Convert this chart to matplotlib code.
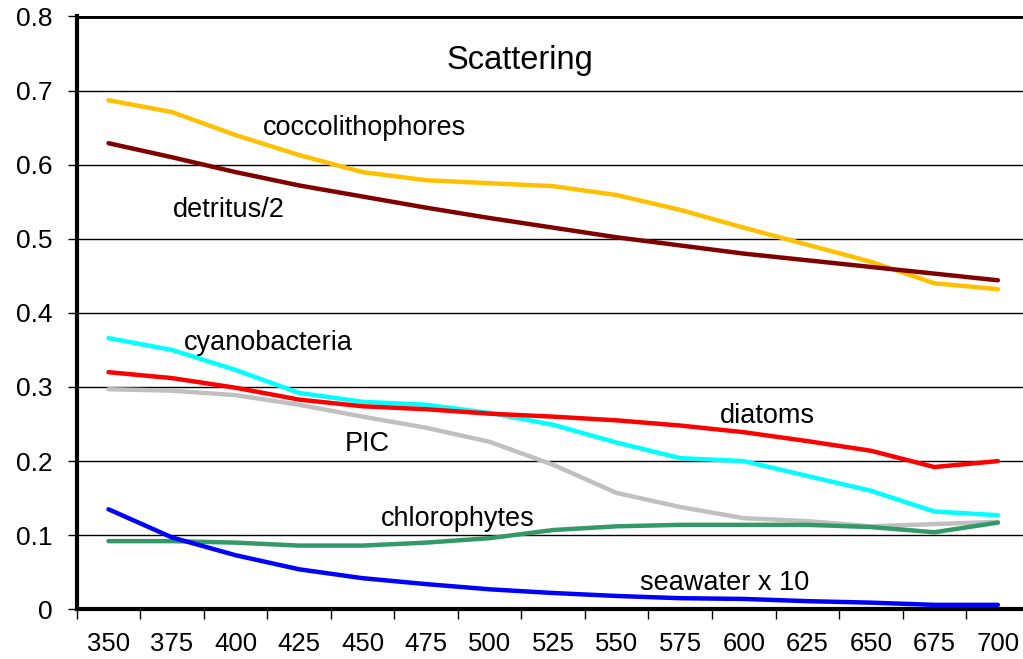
import matplotlib
matplotlib.use("Agg")
import matplotlib.pyplot as plt
from matplotlib.ticker import FixedLocator, NullFormatter

plt.rcParams['font.family'] = ['Liberation Sans', 'DejaVu Sans']

# ---- data ----
wavelength = [350, 375, 400, 425, 450, 475, 500, 525, 550, 575, 600, 625, 650, 675, 700]

coccolithophores = [0.687, 0.671, 0.640, 0.613, 0.590, 0.579, 0.575, 0.571, 0.559,
                    0.539, 0.515, 0.492, 0.469, 0.440, 0.432]
detritus_half = [0.629, 0.610, 0.590, 0.572, 0.557, 0.542, 0.528, 0.515, 0.502,
                 0.491, 0.480, 0.471, 0.462, 0.453, 0.444]
cyanobacteria = [0.366, 0.350, 0.323, 0.292, 0.280, 0.276, 0.265, 0.249, 0.225,
                 0.204, 0.200, 0.180, 0.160, 0.132, 0.127]
diatoms = [0.320, 0.312, 0.299, 0.283, 0.274, 0.270, 0.264, 0.260, 0.255,
           0.248, 0.239, 0.227, 0.214, 0.192, 0.200]
pic = [0.297, 0.295, 0.289, 0.276, 0.260, 0.245, 0.226, 0.195, 0.157,
       0.138, 0.123, 0.119, 0.112, 0.115, 0.118]
chlorophytes = [0.092, 0.092, 0.090, 0.086, 0.086, 0.090, 0.096, 0.107, 0.112,
                0.114, 0.114, 0.114, 0.111, 0.104, 0.117]
seawater_x10 = [0.135, 0.097, 0.073, 0.054, 0.042, 0.034, 0.027, 0.022, 0.018,
                0.015, 0.014, 0.011, 0.009, 0.006, 0.006]

xtick_labels = [str(w) for w in wavelength]
ytick_values = [0, 0.1, 0.2, 0.3, 0.4, 0.5, 0.6, 0.7, 0.8]
ytick_labels = ["0", "0.1", "0.2", "0.3", "0.4", "0.5", "0.6", "0.7", "0.8"]

title = "Scattering"

series = [
    ("coccolithophores", coccolithophores, "#FFC000"),
    ("detritus/2", detritus_half, "#800000"),
    ("cyanobacteria", cyanobacteria, "#00FFFF"),
    ("PIC", pic, "#C0C0C0"),
    ("diatoms", diatoms, "#FF0000"),
    ("chlorophytes", chlorophytes, "#339966"),
    ("seawater x 10", seawater_x10, "#0000FF"),
]

# label anchor positions (data coords, baseline)
label_pos = {
    "coccolithophores": (450.6, 0.640),
    "detritus/2": (397.5, 0.530),
    "cyanobacteria": (412.8, 0.350),
    "diatoms": (609.3, 0.251),
    "PIC": (452.0, 0.214),
    "chlorophytes": (487.6, 0.112),
    "seawater x 10": (592.4, 0.026),
}

# ---- figure ----
fig = plt.figure(figsize=(10.23, 6.59), dpi=100)
ax = fig.add_axes([0.075, 0.0754, 0.9315, 0.8996])

step = wavelength[1] - wavelength[0]
ax.set_xlim(wavelength[0] - step / 2, wavelength[-1] + step / 2)
ax.set_ylim(0, 0.8)

for y in ytick_values[1:-1]:
    ax.axhline(y, color="black", linewidth=1.0, zorder=1)
ax.axhline(0.8, color="black", linewidth=3.5, zorder=1)

for name, vals, col in series:
    ax.plot(wavelength, vals, color=col, linewidth=3.2, solid_capstyle="round",
            solid_joinstyle="round", zorder=3)

for name, vals, col in series:
    x, y = label_pos[name]
    ax.text(x, y, name, fontsize=19.5, ha="center", va="baseline", color="black", zorder=4)

ax.text(512, 0.729, title, fontsize=23.5, ha="center", va="baseline", color="black")

# axes styling
for s in ["top", "right"]:
    ax.spines[s].set_visible(False)
ax.spines["left"].set_linewidth(3.0)
ax.spines["bottom"].set_linewidth(3.0)

ax.yaxis.set_major_locator(FixedLocator(ytick_values))
ax.set_yticklabels(ytick_labels)
ax.tick_params(axis="y", direction="out", length=6.5, width=1.0, pad=11, labelsize=19)

boundaries = [w - step / 2 for w in wavelength] + [wavelength[-1] + step / 2]
ax.xaxis.set_major_locator(FixedLocator(wavelength))
ax.set_xticklabels(xtick_labels)
ax.xaxis.set_minor_locator(FixedLocator(boundaries))
ax.xaxis.set_minor_formatter(NullFormatter())
ax.tick_params(axis="x", which="major", length=0, pad=16, labelsize=18.5)
ax.tick_params(axis="x", which="minor", direction="out", length=7, width=1.0)

fig.savefig("out.png", dpi=100, facecolor="white")
